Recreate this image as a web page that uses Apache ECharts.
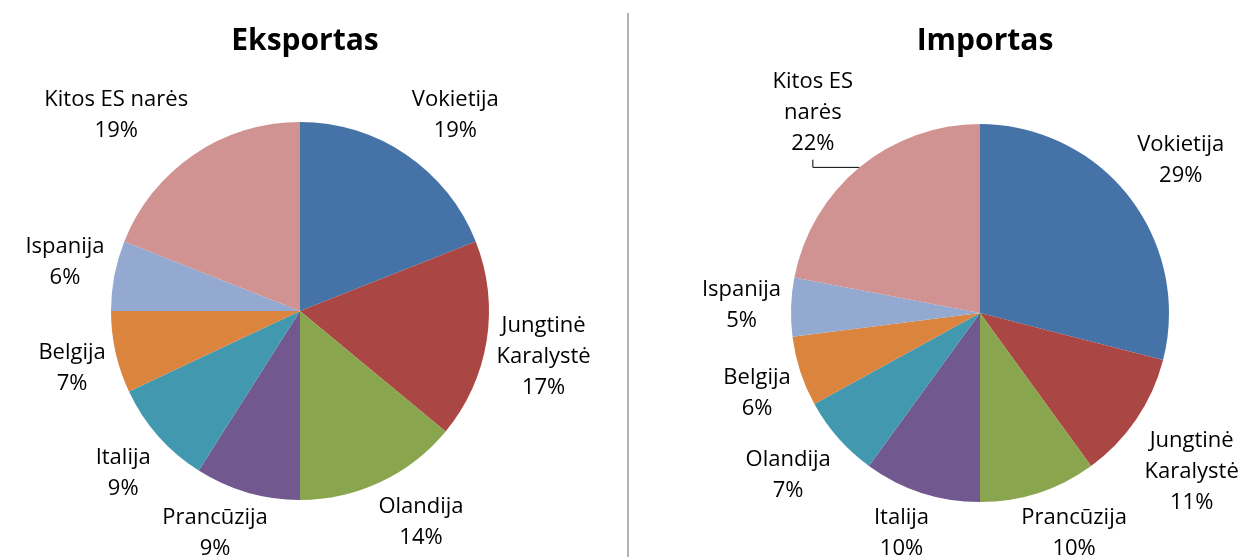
<!DOCTYPE html>
<html>
<head>
<meta charset="utf-8">
<script src="https://cdn.jsdelivr.net/npm/echarts@6/dist/echarts.min.js"></script>
<style>
  html, body { margin: 0; padding: 0; background: #fff; }
  #chart { width: 1257px; height: 557px; }
</style>
</head>
<body>
<div id="chart"></div>
<script>
// Eksportas (clockwise from 12 o'clock)
const exportCountries = ['Vokietija', 'Jungtinė Karalystė', 'Olandija', 'Prancūzija', 'Italija', 'Belgija', 'Ispanija', 'Kitos ES narės'];
const exportLabels = ['Vokietija', 'Jungtinė\nKaralystė', 'Olandija', 'Prancūzija', 'Italija', 'Belgija', 'Ispanija', 'Kitos ES narės'];
const exportShares = [19, 17, 14, 9, 9, 7, 6, 19];

// Importas
const importCountries = ['Vokietija', 'Jungtinė Karalystė', 'Prancūzija', 'Italija', 'Olandija', 'Belgija', 'Ispanija', 'Kitos ES narės'];
const importLabels = ['Vokietija', 'Jungtinė\nKaralystė', 'Prancūzija', 'Italija', 'Olandija', 'Belgija', 'Ispanija', 'Kitos ES\nnarės'];
const importShares = [29, 11, 10, 10, 7, 6, 5, 22];

// spalvos pagal vietą rate
const sliceColors = ['#4572A7', '#AA4643', '#89A54E', '#71588F', '#4198AF', '#DB843D', '#93A9CF', '#D19392'];

const FONT = '"Open Sans", "DejaVu Sans", sans-serif';
const R = 189;

// etiketė: artimiausias jos taškas prie rato – slenksčio vidurio kryptimi
function outsideLabel(cx, cy, values, gap) {
  const total = values.reduce((a, b) => a + b, 0);
  const clamp = v => Math.max(-1, Math.min(1, v));
  return function (params) {
    const i = params.dataIndex;
    let before = 0;
    for (let k = 0; k < i; k++) before += values[k];
    const mid = (before + values[i] / 2) / total * Math.PI * 2;
    const ux = Math.sin(mid), uy = -Math.cos(mid);
    const w = params.labelRect.width, h = params.labelRect.height;
    const px = cx + ux * (R + gap), py = cy + uy * (R + gap);
    return {
      x: px + clamp(2 * ux) * w / 2,
      y: py + clamp(2 * uy) * h / 2,
      align: 'center',
      verticalAlign: 'middle'
    };
  };
}

function makeData(names, labels, values, lineIndex) {
  return names.map((n, i) => {
    const item = {
      name: n,
      value: values[i],
      itemStyle: { color: sliceColors[i] },
      label: { formatter: labels[i] + '\n' + values[i] + '%' }
    };
    if (i === lineIndex) {
      item.labelLine = { show: true, length: 8, length2: 8, lineStyle: { color: '#000', width: 1 } };
    }
    return item;
  });
}

function pieSeries(center, names, labels, values, lineIndex) {
  return {
    type: 'pie',
    center: center,
    radius: R,
    startAngle: 90,
    clockwise: true,
    avoidLabelOverlap: false,
    animation: false,
    itemStyle: { borderWidth: 0 },
    label: {
      position: 'outside',
      color: '#000',
      fontFamily: FONT,
      fontSize: 22,
      lineHeight: 31
    },
    labelLine: { show: false },
    emphasis: { disabled: true },
    labelLayout: outsideLabel(center[0], center[1], values, 10),
    data: makeData(names, labels, values, lineIndex)
  };
}

const chart = echarts.init(document.getElementById('chart'));
chart.setOption({
  backgroundColor: '#fff',
  title: [
    { text: 'Eksportas', left: 300, top: 21, textAlign: 'center',
      textStyle: { fontFamily: FONT, fontSize: 30, fontWeight: 'bold', color: '#000' } },
    { text: 'Importas', left: 980, top: 21, textAlign: 'center',
      textStyle: { fontFamily: FONT, fontSize: 30, fontWeight: 'bold', color: '#000' } }
  ],
  graphic: [{
    type: 'line',
    shape: { x1: 628, y1: 13, x2: 628, y2: 557 },
    style: { stroke: '#b3b3b3', lineWidth: 2 }
  }],
  series: [
    pieSeries([300, 311], exportCountries, exportLabels, exportShares, -1),
    pieSeries([980, 313], importCountries, importLabels, importShares, 7)
  ]
});
</script>
</body>
</html>
